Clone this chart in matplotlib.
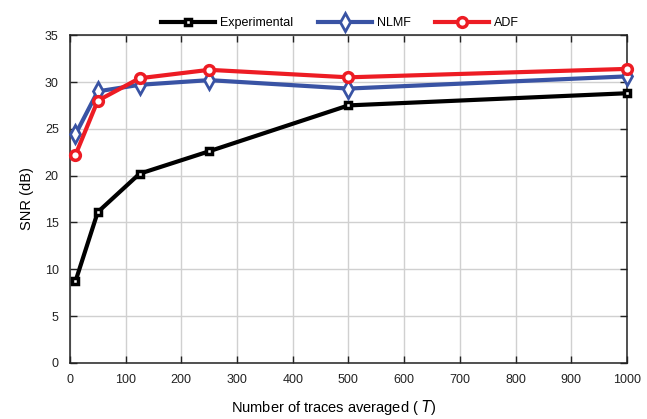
import matplotlib
matplotlib.use('Agg')
import matplotlib.pyplot as plt

plt.rcParams['font.family'] = ['Liberation Sans', 'DejaVu Sans']

traces = [10, 50, 125, 250, 500, 1000]
snr_exp = [8.7, 16.1, 20.2, 22.6, 27.5, 28.8]
snr_nlmf = [24.4, 29.0, 29.7, 30.2, 29.3, 30.6]
snr_adf = [22.2, 28.0, 30.4, 31.3, 30.5, 31.4]

fig = plt.figure(figsize=(6.47, 4.19), dpi=100)
ax = fig.add_axes([0.108, 0.134, 0.861, 0.782])

ax.plot(traces, snr_exp, color='black', lw=3, marker='s', ms=5,
        mfc='white', mec='black', mew=2.5, label='Experimental',
        zorder=3, clip_on=False)
ax.plot(traces, snr_nlmf, color='#3953a4', lw=3, marker='d', ms=9,
        mfc='white', mec='#3953a4', mew=2, label='NLMF',
        zorder=3, clip_on=False)
ax.plot(traces, snr_adf, color='#ed1c24', lw=3, marker='o', ms=7,
        mfc='white', mec='#ed1c24', mew=2.5, label='ADF',
        zorder=4, clip_on=False)

ax.set_xlim(0, 1000)
ax.set_ylim(0, 35)
ax.set_xticks(range(0, 1001, 100))
ax.set_yticks(range(0, 36, 5))
ax.grid(True, color='#d0d0d0', lw=1)
ax.set_axisbelow(True)
ax.tick_params(direction='in', top=True, right=True, length=5, width=1,
               labelsize=9, colors='#222222', pad=8)
for s in ax.spines.values():
    s.set_linewidth(1.1)
    s.set_color('#222222')

ax.set_ylabel('SNR (dB)', fontsize=10.5, labelpad=8)
ax.set_xlabel('Number of traces averaged ( $\\it{T}$)', fontsize=10.5,
              labelpad=9, x=0.474)

ax.legend(loc='lower center', bbox_to_anchor=(0.485, 1.0), ncol=3, frameon=False,
          fontsize=9, handlelength=4.3, columnspacing=2.0, handletextpad=0.4,
          borderaxespad=0.1)

fig.savefig('out.png', dpi=100)
